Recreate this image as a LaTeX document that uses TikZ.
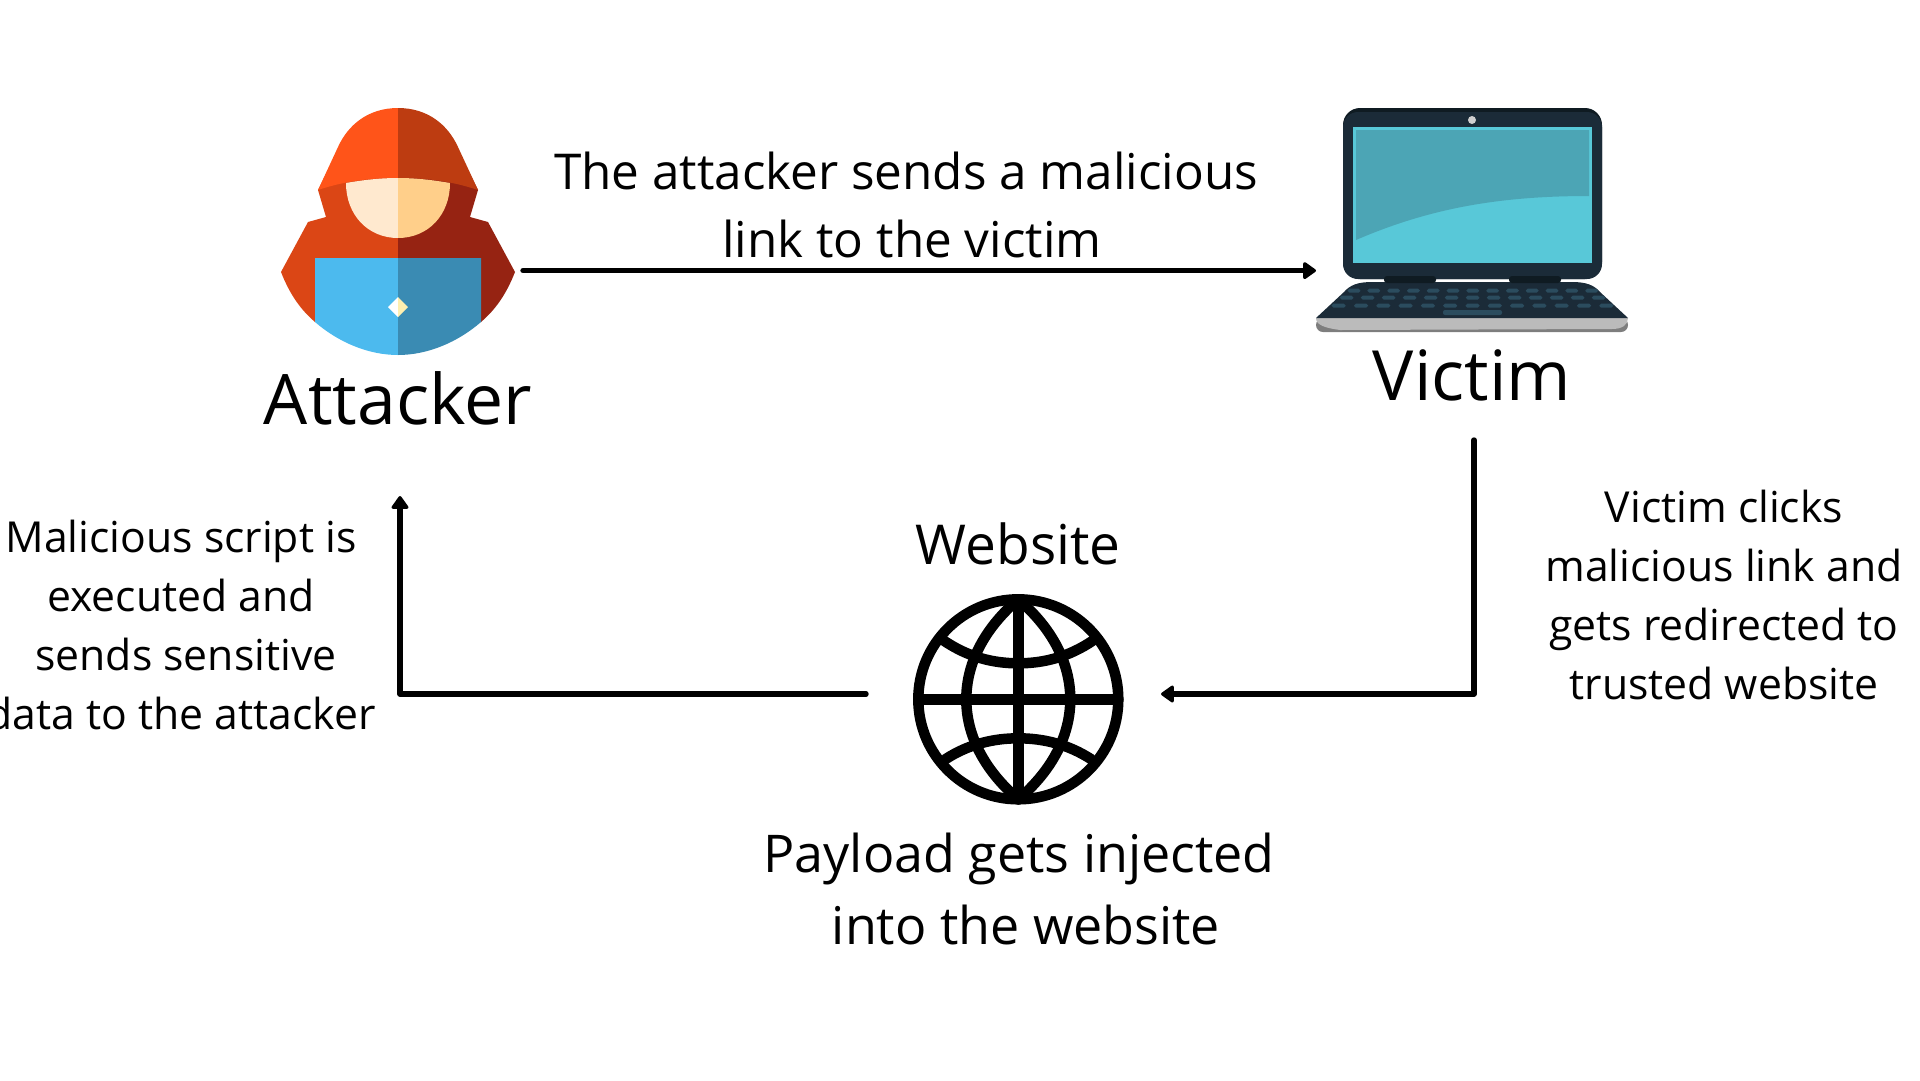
\documentclass[tikz,border=0pt]{standalone}
\usepackage{fontspec}
\setmainfont{Open Sans}
\usetikzlibrary{arrows.meta}
\definecolor{hoodlight}{HTML}{FF5419}
\definecolor{hooddark}{HTML}{BD3C11}
\definecolor{bodylight}{HTML}{DB4615}
\definecolor{bodydark}{HTML}{962312}
\definecolor{facelight}{HTML}{FFE9CF}
\definecolor{facedark}{HTML}{FFCF8A}
\definecolor{padlight}{HTML}{4CBAEE}
\definecolor{paddark}{HTML}{3A8BB3}
\definecolor{gemdark}{HTML}{FDEFB0}
\definecolor{lidcol}{HTML}{1B2B38}
\definecolor{lidedge}{HTML}{0F1B22}
\definecolor{screenlight}{HTML}{58C8D8}
\definecolor{screendark}{HTML}{4CA5B5}
\definecolor{keycol}{HTML}{2B4C5E}
\definecolor{silver}{HTML}{BBBBBB}
\definecolor{silverdark}{HTML}{7E7E7E}
\tikzset{
  title/.style={font=\fontsize{#1}{#1}\selectfont,inner sep=0pt},
  label/.style={font=\fontsize{#1}{#1}\selectfont,inner sep=0pt,align=center},
  link/.style={line width=5.4pt,line cap=round,line join=round,-{Triangle[length=14pt,width=19pt,line width=3pt,round]}},
  globeline/.style={line width=10.5pt,line cap=round}
}
\begin{document}
\begin{tikzpicture}[x=1pt,y=-1pt]
    \useasboundingbox (0,0) rectangle (1920,1080);

    % Attacker
    \foreach \sgn/\hoodc/\bodyc/\facec/\padc in {-1/hoodlight/bodylight/facelight/padlight,1/hooddark/bodydark/facedark/paddark}
    {
        \begin{scope}[shift={(398,0)},xscale=\sgn]
        \fill[\bodyc] (0,170) -- (70,170) -- (80,190) -- (72,217) -- (90,222) -- (117,272)
            .. controls (108,295) and (97,310) .. (83,322) -- (0,340) -- cycle;
        \fill[\hoodc] (0,108) .. controls (30,108) and (50,125) .. (60,147) -- (80,190)
            .. controls (50,180) and (25,178) .. (0,178) -- cycle;
        \fill[\facec] (52,183) .. controls (52,215) and (30,238) .. (0,238) -- (0,178)
            .. controls (18,178) and (35,180) .. (52,183) -- cycle;
        \fill[\padc] (0,258) -- (83,258) -- (83,322) .. controls (60,342) and (30,355) .. (0,355) -- cycle;
        \end{scope}
    }
    \fill[white] (388,307) -- (398,297) -- (398,317) -- cycle;
    \fill[gemdark] (408,307) -- (398,297) -- (398,317) -- cycle;
    \node (attacker) at (398,398) [title=69.7] {Attacker};

    % Victim
    \fill[lidedge,rounded corners=17] (1343,108) rectangle (1602,279);
    \fill[lidcol,rounded corners=15] (1343,112) rectangle (1602,279);
    \fill[screenlight] (1353,127) rectangle (1592,263);
    \fill[screendark] (1356,130) -- (1589,130) -- (1589,196)
        .. controls (1500,196) and (1430,208) .. (1356,240) -- cycle;
    \fill[silver!70!white] (1472,120) circle (4);
    \fill[silverdark,rounded corners=7] (1316,318) -- (1628,318) -- (1628,332) -- (1316,332) -- cycle;
    \fill[silver] (1316,318) -- (1628,318) .. controls (1628,325) and (1622,329) .. (1612,329) -- (1340,330) .. controls (1325,328) and (1316,325) .. (1316,318) -- cycle;
    \fill[lidcol] (1316,318) -- (1344,292) .. controls (1350,285) and (1358,282) .. (1372,282)
        -- (1572,282) .. controls (1586,282) and (1594,285) .. (1600,292) -- (1628,318) -- cycle;
    \fill[lidedge,rounded corners=3] (1384,276) rectangle (1436,283);
    \fill[lidedge,rounded corners=3] (1509,276) rectangle (1561,283);
    % Keyboard rows
    \foreach \row/\first/\gap/\ypos/\wid in {1/1354/19.8/290.7/12.7,2/1346.7/21/297.7/13.5,3/1338.7/22.3/305.7/14}
    {
        \foreach \key in {0,...,12}
        {
            \pgfmathsetmacro{\keyx}{\first+\gap*\key}
            \fill[keycol,rounded corners=1.8] (\keyx-\wid/2,\ypos-2) rectangle (\keyx+\wid/2,\ypos+2);
        }
    }
    \fill[keycol,rounded corners=2] (1443,310) rectangle (1502,315);
    \node (victim) at (1472,375) [title=69.3] {Victim};

    % Website
    \begin{scope}[shift={(1018.3,699.3)}]
    \draw[line width=10.5pt] (0,0) circle (100);
    \draw[globeline] (-100,0) -- (100,0);
    \draw[globeline] (0,-100) -- (0,100);
    \draw[globeline] (0,-100) .. controls (-35,-70) and (-52,-35) .. (-52,0) .. controls (-52,35) and (-35,70) .. (0,100);
    \draw[globeline] (0,-100) .. controls (35,-70) and (52,-35) .. (52,0) .. controls (52,35) and (35,70) .. (0,100);
    \draw[globeline] (-75,-59) .. controls (-50,-42) and (-25,-36) .. (0,-36) .. controls (25,-36) and (50,-42) .. (75,-59);
    \draw[globeline] (-73,60) .. controls (-50,45) and (-25,39) .. (0,39) .. controls (25,39) and (50,45) .. (73,60);
    \end{scope}
    \node (website) at (1018,544) [title=55] {Website};

    % Labels
    \node (sendtext) at (906,205) [label=49.4] {The attacker sends a malicious\\[19.3pt]\hspace*{12pt}link to the victim};
    \node (clicktext) at (1724,595) [label=42.7] {Victim clicks\\[16pt]malicious link and\\[16pt]gets redirected to\\[16pt]trusted website};
    \node (scripttext) at (181,625) [label=42.7] {Malicious script is\\[16.5pt]executed and\\[16.5pt]\hspace*{10pt}sends sensitive\\[16.5pt]data to the attacker};
    \node (payloadtext) at (1019,889) [label=52] {Payload gets injected\\[20pt]\hspace*{14pt}into the website};

    % Connectors
    \coordinate (sendstart) at (523,270.6);
    \coordinate (sendend) at (1316,270.6);
    \coordinate (clickstart) at (1474,440);
    \coordinate (clickbend) at (1474,694);
    \coordinate (clickend) at (1161,694);
    \coordinate (scriptstart) at (866,694);
    \coordinate (scriptbend) at (400,694);
    \coordinate (scriptend) at (400,496);
    \draw[link] (sendstart) -- (sendend);
    \draw[link] (clickstart) -- (clickbend) -- (clickend);
    \draw[link] (scriptstart) -- (scriptbend) -- (scriptend);
\end{tikzpicture}
\end{document}
